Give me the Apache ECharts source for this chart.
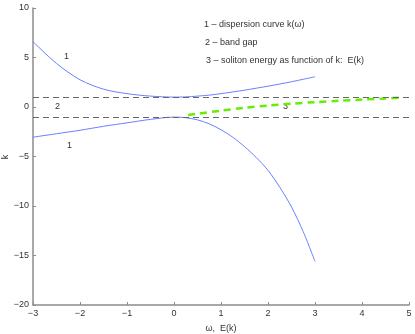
<!DOCTYPE html>
<html>
<head>
<meta charset="utf-8">
<script src="https://cdn.jsdelivr.net/npm/echarts@6/dist/echarts.min.js"></script>
<style>
  html, body { margin: 0; padding: 0; background: #fff; }
  #main { width: 415px; height: 334px; }
</style>
</head>
<body>
<div id="main"></div>
<script>
// omega values for the dispersion branches
var omega = [-3, -2.5, -2, -1.5, -1, -0.5, 0, 0.25, 0.5, 0.75, 1, 1.25, 1.5, 1.75, 2, 2.25, 2.5, 2.75, 3];
var kUpper = [6.6, 4.4, 2.75, 1.8, 1.35, 1.1, 1.0, 1.02, 1.1, 1.2, 1.35, 1.52, 1.7, 1.9, 2.1, 2.32, 2.55, 2.8, 3.05];
var kLower = [-3.05, -2.7, -2.35, -1.95, -1.6, -1.25, -1.02, -1.08, -1.3, -1.7, -2.3, -3.05, -4.0, -5.1, -6.4, -8.1, -10.1, -12.6, -15.6];

// soliton energy E(k)
var eOmega = [0.3, 0.5, 1, 1.5, 2, 2.5, 3, 3.5, 4, 4.5, 4.85];
var eK = [-0.8, -0.68, -0.37, -0.08, 0.15, 0.33, 0.49, 0.62, 0.75, 0.86, 0.95];

// band gap edges
var gapEdges = [1, -1];

var xTicks = [-3, 5, 1];
var yTicks = [-20, 10, 5];

function pairs(xs, ys) {
    var out = [];
    for (var i = 0; i < xs.length; i++) out.push([xs[i], ys[i]]);
    return out;
}
function minus(v) {
    return String(v).replace('-', '\u2212');
}

var chart = echarts.init(document.getElementById('main'));

var blue = '#6a80ff';
var txt = '#333';
var font = 'Liberation Sans, Arial, sans-serif';

var option = {
    animation: false,
    backgroundColor: '#fff',
    grid: { left: 33, right: 6, top: 8, bottom: 29, containLabel: false, outerBoundsMode: 'none' },
    xAxis: {
        type: 'value',
        min: xTicks[0], max: xTicks[1], interval: xTicks[2],
        name: '\u03c9,  E(k)',
        nameLocation: 'middle',
        nameGap: 19,
        nameTextStyle: { color: txt, fontSize: 9, fontFamily: font },
        axisLine: { onZero: false, lineStyle: { color: '#8c8c8c', width: 1.5 } },
        axisTick: { inside: true, length: 3, lineStyle: { color: '#8c8c8c' } },
        axisLabel: { color: txt, fontSize: 9, fontFamily: font, margin: 4, formatter: minus },
        splitLine: { show: false }
    },
    yAxis: {
        type: 'value',
        min: yTicks[0], max: yTicks[1], interval: yTicks[2],
        axisLine: { onZero: false, lineStyle: { color: '#8c8c8c', width: 1.5 } },
        axisTick: { inside: true, length: 3, lineStyle: { color: '#8c8c8c' } },
        axisLabel: { color: txt, fontSize: 9, fontFamily: font, margin: 4, formatter: minus },
        splitLine: { show: false }
    },
    series: [
        {
            type: 'line',
            data: pairs(omega, kUpper),
            smooth: 0.3,
            symbol: 'none',
            lineStyle: { color: blue, width: 1 },
            markLine: {
                silent: true,
                symbol: 'none',
                label: { show: false },
                lineStyle: { color: '#666', type: [6, 4], width: 1 },
                data: gapEdges.map(function (v) { return { yAxis: v }; })
            }
        },
        {
            type: 'line',
            data: pairs(omega, kLower),
            smooth: 0.3,
            symbol: 'none',
            lineStyle: { color: blue, width: 1 }
        },
        {
            type: 'line',
            data: pairs(eOmega, eK),
            smooth: 0.3,
            symbol: 'none',
            lineStyle: { color: '#66ee00', width: 2.5, type: [7, 5] }
        }
    ],
    graphic: [
        // y axis name
        { type: 'text', x: 6, y: 157, rotation: Math.PI / 2,
          style: { text: 'k', fill: txt, font: '9px ' + font, align: 'center', verticalAlign: 'middle' } },
        { type: 'text', left: 64, top: 52, style: { text: '1', fill: txt, font: '9px ' + font } },
        { type: 'text', left: 55, top: 102, style: { text: '2', fill: txt, font: '9px ' + font } },
        { type: 'text', left: 67, top: 141, style: { text: '1', fill: txt, font: '9px ' + font } },
        { type: 'text', left: 283, top: 102, style: { text: '3', fill: txt, font: '9px ' + font } },
        { type: 'text', left: 204, top: 20, style: { text: '1 \u2013 dispersion curve k(\u03c9)', fill: txt, font: '9px ' + font } },
        { type: 'text', left: 205, top: 38, style: { text: '2 \u2013 band gap', fill: txt, font: '9px ' + font } },
        { type: 'text', left: 206, top: 56, style: { text: '3 \u2013 soliton energy as function of k:  E(k)', fill: txt, font: '9px ' + font } }
    ]
};

chart.setOption(option);
</script>
</body>
</html>
